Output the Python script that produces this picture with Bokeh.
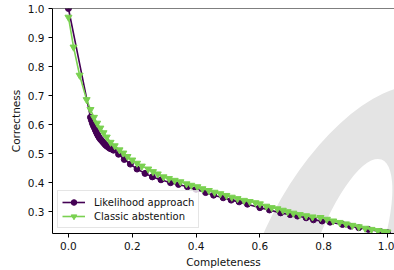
from bokeh.plotting import figure
from bokeh.models import Span, FixedTicker, PrintfTickFormatter
from bokeh.embed import file_html
from bokeh.resources import INLINE
import math

# ---- data ----
likelihood_x = [0.0, 0.069, 0.072, 0.075, 0.078, 0.081, 0.084, 0.087,
                0.09, 0.093, 0.096, 0.10, 0.104, 0.108, 0.112, 0.116, 0.12, 0.125,
                0.13, 0.135, 0.141, 0.157, 0.175, 0.194, 0.215, 0.24, 0.263, 0.29,
                0.32, 0.345, 0.373, 0.40, 0.43, 0.455, 0.485, 0.51, 0.535, 0.561,
                0.60, 0.63, 0.665, 0.695, 0.718, 0.745, 0.768, 0.795, 0.82, 0.859,
                0.884, 0.91, 0.94, 0.978, 1.0]
likelihood_y = [1.0, 0.625, 0.615, 0.605, 0.597, 0.59, 0.582, 0.575,
                0.568, 0.562, 0.556, 0.55, 0.545, 0.54, 0.535, 0.53, 0.526, 0.522,
                0.518, 0.516, 0.512, 0.498, 0.48, 0.464, 0.447, 0.432, 0.42, 0.41,
                0.40, 0.394, 0.386, 0.377, 0.366, 0.357, 0.348, 0.34, 0.334, 0.326,
                0.314, 0.306, 0.296, 0.29, 0.285, 0.279, 0.272, 0.268, 0.264, 0.256,
                0.25, 0.245, 0.239, 0.232, 0.228]

classic_x = [0.0, 0.016, 0.035, 0.057, 0.069, 0.08, 0.09, 0.1, 0.11, 0.12,
             0.132, 0.145, 0.16, 0.172, 0.185, 0.2, 0.215, 0.23, 0.25, 0.265,
             0.28, 0.298, 0.315, 0.333, 0.351, 0.37, 0.385, 0.404, 0.42, 0.44,
             0.458, 0.476, 0.495, 0.512, 0.53, 0.55, 0.568, 0.586, 0.6, 0.62,
             0.637, 0.655, 0.672, 0.687, 0.705, 0.725, 0.745, 0.765, 0.79, 0.81,
             0.83, 0.85, 0.87, 0.89, 0.91, 0.93, 0.95, 0.97, 0.987, 1.0]
classic_y = [0.97, 0.867, 0.77, 0.686, 0.652, 0.625, 0.605, 0.588, 0.572, 0.557,
             0.539, 0.527, 0.513, 0.502, 0.49, 0.478, 0.467, 0.457, 0.447, 0.438,
             0.43, 0.42, 0.414, 0.408, 0.403, 0.396, 0.391, 0.386, 0.379, 0.373,
             0.367, 0.362, 0.356, 0.35, 0.345, 0.339, 0.335, 0.331, 0.327, 0.319,
             0.314, 0.31, 0.305, 0.3, 0.295, 0.29, 0.286, 0.282, 0.28, 0.274,
             0.268, 0.263, 0.258, 0.253, 0.248, 0.243, 0.239, 0.235, 0.232, 0.23]

series_labels = ["Likelihood approach", "Classic abstention"]
x_ticks = [0.0, 0.2, 0.4, 0.6, 0.8, 1.0]
y_ticks = [0.3, 0.4, 0.5, 0.6, 0.7, 0.8, 0.9, 1.0]
x_title = "Completeness"
y_title = "Correctness"

# ---- styling ----
PURPLE = "#440154"
GREEN = "#7ad151"
FONT = "DejaVu Sans"
WM = "#e4e4e4"
TXT = "#111111"

p = figure(width=394, height=270, x_range=(-0.05, 1.022), y_range=(0.225, 1.0),
           output_backend="svg", toolbar_location=None,
           min_border_left=52, min_border_right=0, min_border_top=8, min_border_bottom=35)
p.outline_line_color = None
p.grid.visible = False
p.background_fill_color = "white"

# faint background watermark (decoration, not data)
p.ellipse(x=0.884, y=0.208, width=340, height=160, angle=math.radians(60),
          width_units="screen", height_units="screen",
          fill_color=WM, line_color=None)
p.ellipse(x=0.8685, y=0.14, width=210, height=64, angle=math.radians(70),
          width_units="screen", height_units="screen",
          fill_color="white", line_color=None)

# series
p.line(likelihood_x, likelihood_y, line_color=PURPLE, line_width=1.6, legend_label=series_labels[0])
p.scatter(likelihood_x, likelihood_y, marker="circle", size=6, fill_color=PURPLE,
          line_color=PURPLE, legend_label=series_labels[0])
p.line(classic_x, classic_y, line_color=GREEN, line_width=1.6, legend_label=series_labels[1])
p.scatter(classic_x, classic_y, marker="inverted_triangle", size=7, fill_color=GREEN,
          line_color=GREEN, legend_label=series_labels[1])

# top spine
p.add_layout(Span(location=1.0, dimension="width", line_color="black", line_width=1))

for ax in (p.xaxis[0], p.yaxis[0]):
    ax.axis_line_color = "black"
    ax.major_tick_line_color = "black"
    ax.major_tick_out = 4
    ax.major_tick_in = 0
    ax.minor_tick_line_color = None
    ax.major_label_text_font = FONT
    ax.major_label_text_font_size = "10.5px"
    ax.major_label_text_color = TXT
    ax.axis_label_text_font = FONT
    ax.axis_label_text_font_size = "10.5px"
    ax.axis_label_text_font_style = "normal"
    ax.axis_label_text_color = TXT
    ax.major_label_standoff = 4
    ax.axis_label_standoff = 3
    ax.formatter = PrintfTickFormatter(format="%.1f")

p.xaxis.ticker = FixedTicker(ticks=x_ticks)
p.yaxis.ticker = FixedTicker(ticks=y_ticks)
p.xaxis.axis_label = x_title
p.yaxis.axis_label = y_title

lg = p.legend[0]
lg.location = "bottom_left"
lg.margin = 5
lg.padding = 4
lg.spacing = 0
lg.label_height = 14
lg.glyph_height = 14
lg.glyph_width = 23
lg.label_standoff = 9
lg.border_line_color = "#cccccc"
lg.background_fill_alpha = 0.8
lg.label_text_font = FONT
lg.label_text_font_size = "10px"
lg.label_text_color = TXT

open("out.html", "w").write(file_html(p, INLINE))
